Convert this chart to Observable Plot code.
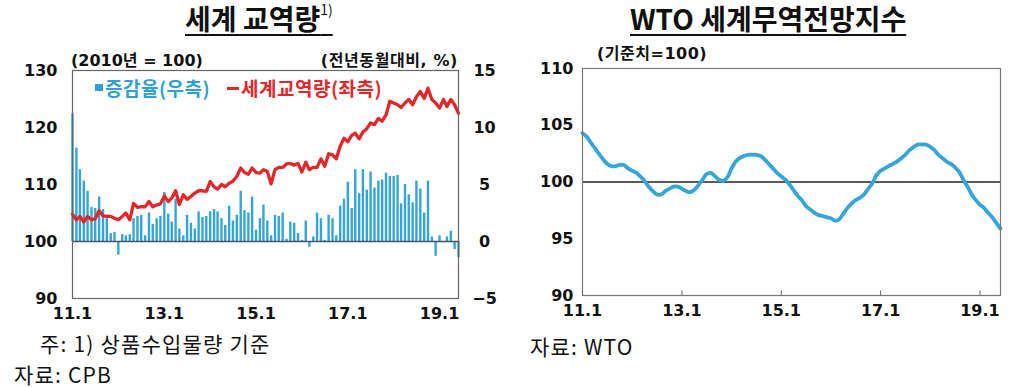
<!DOCTYPE html>
<html><head><meta charset="utf-8">
<script src="https://cdn.jsdelivr.net/npm/d3@7"></script>
<script src="https://cdn.jsdelivr.net/npm/@observablehq/plot@0.6"></script>
<style>
html,body{margin:0;padding:0;background:#fff;}
body{width:1024px;height:387px;overflow:hidden;position:relative;font-family:"Noto Sans CJK KR",sans-serif;color:#111;}
.abs{position:absolute;white-space:nowrap;line-height:1;}
.title{font-weight:700;font-size:28px;line-height:1.3;text-decoration:underline;text-decoration-thickness:2px;text-underline-offset:4px;}
.title sup{font-size:14px;font-weight:400;vertical-align:top;position:relative;top:2px;line-height:1;}
.sub{font-family:"DejaVu Sans","Noto Sans CJK KR";font-weight:700;font-size:16px;}
.leg{font-weight:700;font-size:19px;letter-spacing:0.5px;}
.note{font-size:21px;font-weight:400;letter-spacing:1.2px;}
#left,#right{position:absolute;top:40px;}
#left{left:0;}
#right{left:510px;}
</style></head>
<body>
<div class="abs title" style="left:185px;top:0px;">세계 교역량<sup>1)</sup></div>
<div class="abs title" style="left:630px;top:0px;">WTO 세계무역전망지수</div>
<div class="abs sub" style="left:71px;top:53px;">(2010년 = 100)</div>
<div class="abs sub" style="right:566px;top:53px;letter-spacing:0.6px;">(전년동월대비, %)</div>
<div class="abs sub" style="left:597px;top:46px;letter-spacing:0.5px;">(기준치=100)</div>
<div class="abs leg" style="left:95px;top:78px;color:#2f9fd6;"><span style="display:inline-block;width:8px;height:7px;background:#2f9fd6;vertical-align:middle;margin-right:2px;position:relative;top:-3px;"></span>증감율(우측)</div>
<div class="abs leg" style="left:227px;top:78px;color:#e3262a;"><span style="display:inline-block;width:12px;height:3px;background:#e3262a;vertical-align:middle;margin-right:2px;position:relative;top:-2px;"></span>세계교역량(좌측)</div>
<div class="abs note" style="left:40px;top:333px;">주: 1) 상품수입물량 기준</div>
<div class="abs note" style="left:14px;top:364px;">자료: CPB</div>
<div class="abs note" style="left:530px;top:336px;">자료: WTO</div>
<div id="left"></div>
<div id="right"></div>
<script>
// ---- data (monthly, 2011.1 ~ 2019.6) ----
const startMonth = "2011-01-01";
const endMonthExclusive = "2019-07-01";

// World trade volume index (2010 = 100), left axis
const tradeVolume = [
  104.8,103.8,104.4,103.4,104.4,103.8,104.0,105.4,104.5,104.4,104.4,104.1,
  103.8,104.4,105.0,103.8,106.7,106.0,106.1,106.1,107.0,106.1,106.4,106.6,
  108.0,107.0,107.6,108.9,106.5,108.2,107.4,107.9,108.5,108.9,108.9,108.8,
  110.5,109.6,109.2,110.0,109.6,110.2,110.6,111.4,112.9,112.1,111.8,112.9,
  112.1,112.0,112.6,112.3,110.1,112.6,113.0,113.0,113.6,113.7,113.4,113.7,
  112.2,113.9,112.6,113.0,113.0,114.5,113.2,115.4,115.2,114.5,116.7,118.1,
  117.5,118.6,119.0,118.0,119.2,119.8,120.8,120.5,121.6,121.1,122.2,124.6,
  124.3,124.0,123.5,124.3,124.9,124.0,125.4,126.3,125.1,126.9,124.9,124.3,
  123.4,124.9,123.7,124.9,124.0,122.5
];

// Year-on-year growth (%), right axis
const yoyGrowth = [
  11.2,8.2,6.3,5.3,4.4,3.0,2.9,3.9,2.8,2.0,0.7,0.8,
  -1.2,0.6,0.5,0.6,2.0,2.2,2.3,0.5,2.5,1.5,2.0,2.2,
  4.3,2.4,1.7,3.7,1.1,0.5,2.3,1.6,1.1,2.6,2.1,2.2,
  2.6,2.8,2.6,2.0,1.4,3.1,1.8,2.3,4.4,2.7,2.5,3.9,
  1.0,2.0,3.2,1.8,0.5,2.3,2.2,2.5,0.2,1.7,1.6,0.7,
  0.1,1.8,-0.5,0.4,2.5,2.0,0.1,2.3,2.0,0.5,3.1,3.7,
  5.2,2.9,6.3,4.2,6.3,4.5,6.1,4.7,5.3,5.4,6.0,5.7,
  5.7,5.8,3.3,5.0,4.1,3.4,5.3,4.6,2.5,5.3,0.4,-1.3,
  0.5,-0.1,0.4,0.9,-0.7,-1.4
];

// WTO World Trade Outlook Indicator (baseline = 100)
const wtoIndex = [
  104.3,104.0,103.5,103.0,102.5,102.0,101.6,101.4,101.4,101.5,101.5,101.2,
  101.0,100.8,100.5,100.1,99.6,99.2,98.9,98.9,99.2,99.4,99.6,99.6,
  99.4,99.2,99.1,99.3,99.7,100.2,100.7,100.8,100.5,100.2,100.1,100.4,
  101.2,101.8,102.1,102.3,102.4,102.4,102.4,102.3,102.0,101.6,101.2,100.8,
  100.5,100.2,99.8,99.3,98.8,98.4,97.9,97.6,97.3,97.1,97.0,96.9,
  96.8,96.6,96.7,97.2,97.7,98.1,98.4,98.6,98.9,99.4,99.9,100.6,
  101.0,101.2,101.4,101.6,101.8,102.1,102.4,102.8,103.1,103.3,103.3,103.3,
  103.1,102.8,102.4,102.1,101.8,101.6,101.3,100.9,100.2,99.6,98.9,98.4,
  98.0,97.7,97.3,96.9,96.4,95.9
];

const xTickMonths = ["2011-01-01","2013-01-01","2015-01-01","2017-01-01","2019-01-01"];
const xTickLabels = ["11.1","13.1","15.1","17.1","19.1"];
const leftTicks = [90,100,110,120,130];
const rightTicks = [-5,0,5,10,15];
const wtoTicks = [90,95,100,105,110];

// ---- build ----
const dates = d3.utcMonth.range(new Date(startMonth), new Date(endMonthExclusive));
const xTicks = xTickMonths.map(d => new Date(d));
const xFmt = d => xTickLabels[xTicks.findIndex(t => +t === +d)];
const volData = dates.map((d,i) => ({date:d, v:tradeVolume[i]}));
const growthData = dates.map((d,i) => ({date:d, g:yoyGrowth[i]}));
const wtoData = dates.map((d,i) => ({date:d, v:wtoIndex[i]}));
// growth (%) shares the left axis: 0% ↔ 100, 15% ↔ 130
const toLeft = g => 100 + 2*g;

const axisStyle = {fontFamily:"DejaVu Sans", fontWeight:"bold", fontSize:"16px", color:"#111", background:"transparent", overflow:"visible"};

const left = Plot.plot({
  width:510, height:300, marginLeft:72, marginRight:52, marginTop:30, marginBottom:42,
  style: axisStyle,
  x: {type:"utc", domain:[dates[0], dates[dates.length-1]], label:null},
  y: {domain:[90,130], label:null},
  marks: [
    Plot.ruleX(growthData, {x:"date", y1:100, y2:d => toLeft(d.g), stroke:"#35a4d8", strokeWidth:2.4}),
    Plot.ruleY([100], {stroke:"#4b5561", strokeWidth:1.5}),
    Plot.line(volData, {x:"date", y:"v", stroke:"#e3262a", strokeWidth:3.3, strokeLinejoin:"round"}),
    Plot.frame({stroke:"#666", strokeWidth:1.2}),
    Plot.axisY(leftTicks, {anchor:"left", tickSize:0, tickPadding:15, label:null}),
    Plot.axisY(rightTicks.map(toLeft), {anchor:"right", tickSize:0, tickPadding:0, textAnchor:"middle", dx:26, label:null,
      tickFormat: y => { const v = (y-100)/2; return v < 0 ? "−" + (-v) : String(v); }}),
    Plot.axisX(xTicks, {tickSize:0, tickPadding:9, tickFormat:xFmt, label:null})
  ]
});
document.getElementById("left").append(left);

const right = Plot.plot({
  width:514, height:300, marginLeft:72, marginRight:24, marginTop:28, marginBottom:45,
  style: axisStyle,
  x: {type:"utc", domain:[dates[0], dates[dates.length-1]], label:null},
  y: {domain:[90,110], label:null},
  marks: [
    Plot.ruleY([100], {stroke:"#222", strokeWidth:1.6}),
    Plot.line(wtoData, {x:"date", y:"v", stroke:"#36a6d6", strokeWidth:3.8, curve:"catmull-rom"}),
    Plot.frame({stroke:"#777", strokeWidth:1.2}),
    Plot.ruleX(xTicks, {x:d => d, y1:90, y2:90.4, stroke:"#666", strokeWidth:1}),
    Plot.axisY(wtoTicks, {anchor:"left", tickSize:0, tickPadding:9, label:null}),
    Plot.axisX(xTicks, {tickSize:0, tickPadding:9, tickFormat:xFmt, label:null})
  ]
});
document.getElementById("right").append(right);
</script>
</body></html>
